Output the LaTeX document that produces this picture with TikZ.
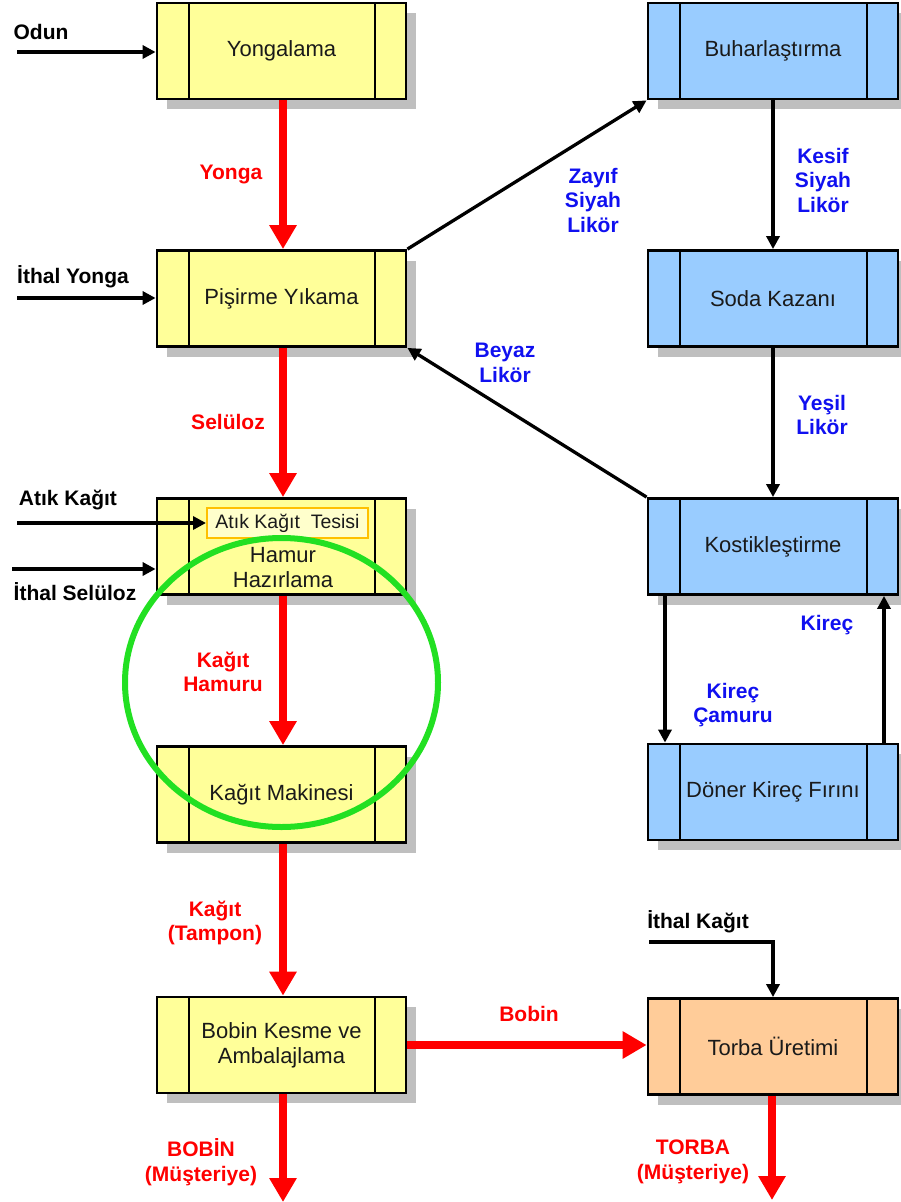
\documentclass[tikz,border=0pt]{standalone}
\usepackage{fontspec}
\setmainfont{Liberation Sans}
\usetikzlibrary{arrows.meta,shadows}
\definecolor{ybox}{HTML}{FFFF99}
\definecolor{bbox}{HTML}{99CCFF}
\definecolor{obox}{HTML}{FFCC99}
\definecolor{shad}{HTML}{BFBFBF}
\definecolor{rd}{HTML}{FF0000}
\definecolor{bl}{HTML}{1010F0}
\definecolor{gr}{HTML}{22E022}
\definecolor{tesb}{HTML}{FFC000}
\definecolor{tesf}{HTML}{FFFFCC}
\definecolor{txt}{HTML}{1A1A1A}
\begin{document}
\begin{tikzpicture}[x=1pt,y=-1pt,
  every node/.style={font=\fontsize{22}{25}\selectfont},
  proc/.style={draw=black, line width=2.8pt, minimum width=249pt, minimum height=96pt,
    inner sep=0pt, align=center, text=txt,
    drop shadow={shadow xshift=10pt, shadow yshift=-10pt, fill=shad, opacity=1},
    path picture={
      \draw[line width=2.6pt] ([xshift=32pt]path picture bounding box.north west) -- ([xshift=32pt]path picture bounding box.south west);
      \draw[line width=2.6pt] ([xshift=-31pt]path picture bounding box.north east) -- ([xshift=-31pt]path picture bounding box.south east);}},
  lbl/.style={font=\bfseries\fontsize{21}{24.5}\selectfont, align=center},
  rlbl/.style={lbl, text=rd},
  blbl/.style={lbl, text=bl},
  redarr/.style={draw=rd, line width=7.5pt, -{Triangle[width=26pt,length=24pt]}},
  blkarr/.style={draw=black, line width=3.3pt, -{Triangle[width=13pt,length=13pt]}}
]
\useasboundingbox (0,0) rectangle (901,1202);

% process boxes
\node[proc, fill=ybox] (yong) at (281.5,51) {Yongalama};
\node[proc, fill=ybox] (pis) at (281.5,298.5) {Pişirme Yıkama};
\node[proc, fill=ybox] (ham) at (281.5,546.5) {};
\node[proc, fill=ybox] (mak) at (281.5,794.5) {Kağıt Makinesi};
\node[proc, fill=ybox] (bob) at (281.5,1045) {Bobin Kesme ve\\Ambalajlama};
\node[proc, fill=bbox, minimum width=250pt] (buh) at (773,51) {Buharlaştırma};
\node[proc, fill=bbox, minimum width=250pt] (soda) at (773,298.5) {Soda Kazanı};
\node[proc, fill=bbox, minimum width=250pt] (kost) at (773,546.5) {Kostikleştirme};
\node[proc, fill=bbox, minimum width=250pt] (don) at (773,792) {Döner Kireç Fırını};
\node[proc, fill=obox, minimum width=250pt] (torba) at (773,1046.5) {Torba Üretimi};

\node[text=txt, align=center, font=\fontsize{22}{25}\selectfont] (hamtxt) at (283,567.5) {Hamur\\Hazırlama};
\node[draw=tesb, fill=tesf, line width=2pt, minimum width=161pt, minimum height=30pt, inner sep=0pt,
  text=txt, font=\fontsize{19.5}{22}\selectfont] (tes) at (287.5,523) {Atık Kağıt\ \ Tesisi};

% input coordinates
\coordinate (odun) at (17,52);
\coordinate (iyon) at (17,298);
\coordinate (atik) at (17,523);
\coordinate (isel) at (12,569);
\coordinate (ikag) at (649,942);
\coordinate (bobout) at (283,1202);
\coordinate (torout) at (772,1200);
\coordinate (kdx) at (665,0);
\coordinate (krx) at (884,0);

% black inputs
\draw[blkarr] (odun) -- (odun -| yong.west);
\draw[blkarr] (iyon) -- (iyon -| pis.west);
\draw[blkarr] (atik) -- (tes.west);
\draw[blkarr] (isel) -- (isel -| ham.west);
\draw[blkarr] (ikag) -| (torba.north);

% red main flow
\draw[redarr] ([xshift=1.5pt]yong.south) -- ([xshift=1.5pt]pis.north);
\draw[redarr] ([xshift=1.5pt]pis.south) -- ([xshift=1.5pt]ham.north);
\draw[redarr] ([xshift=1.5pt]ham.south) -- ([xshift=1.5pt]mak.north);
\draw[redarr] ([xshift=1.5pt]mak.south) -- ([xshift=1.5pt]bob.north);
\draw[redarr] (bob.east) -- (torba.west |- bob.east);
\draw[redarr] (bob.south -| bobout) -- (bobout);
\draw[redarr] (torba.south -| torout) -- (torout);

% liquor cycle
\draw[blkarr] (pis.north east) -- (buh.south west);
\draw[blkarr] (buh.south) -- (soda.north);
\draw[blkarr] (soda.south) -- (kost.north);
\draw[blkarr] (kost.north west) -- (pis.south east);
\draw[blkarr] (kdx |- kost.south) -- (kdx |- don.north);
\draw[blkarr] (krx |- don.north) -- (krx |- kost.south);

% labels
\node[lbl] (lodun) at (41,32) {Odun};
\node[lbl] (liyon) at (73,277) {İthal Yonga};
\node[lbl] (latik) at (68,500) {Atık Kağıt};
\node[lbl] (lisel) at (75,592) {İthal Selüloz};
\node[lbl] (likag) at (698,922) {İthal Kağıt};

\node[rlbl] (lyonga) at (231,174) {Yonga};
\node[rlbl] (lselu) at (228,422) {Selüloz};
\node[rlbl] (lkh) at (223,672) {Kağıt\\Hamuru};
\node[rlbl] (lkt) at (215,923) {Kağıt\\(Tampon)};
\node[rlbl] (lbob) at (529,1014) {Bobin};
\node[rlbl] (lbobm) at (201,1162) {BOBİN\\(Müşteriye)};
\node[rlbl] (ltorm) at (693,1162) {TORBA\\(Müşteriye)};

\node[blbl] (lzsl) at (593,200) {Zayıf\\Siyah\\Likör};
\node[blbl] (lksl) at (823,180) {Kesif\\Siyah\\Likör};
\node[blbl] (lyl) at (822,415) {Yeşil\\Likör};
\node[blbl] (lbyl) at (505,363) {Beyaz\\Likör};
\node[blbl] (lkc) at (733,705) {Kireç\\Çamuru};
\node[blbl] (lkr) at (827,625) {Kireç};

% highlight
\draw[gr, line width=6pt] (281.5,682.5) ellipse [x radius=156.5pt, y radius=144.5pt];
\end{tikzpicture}
\end{document}
